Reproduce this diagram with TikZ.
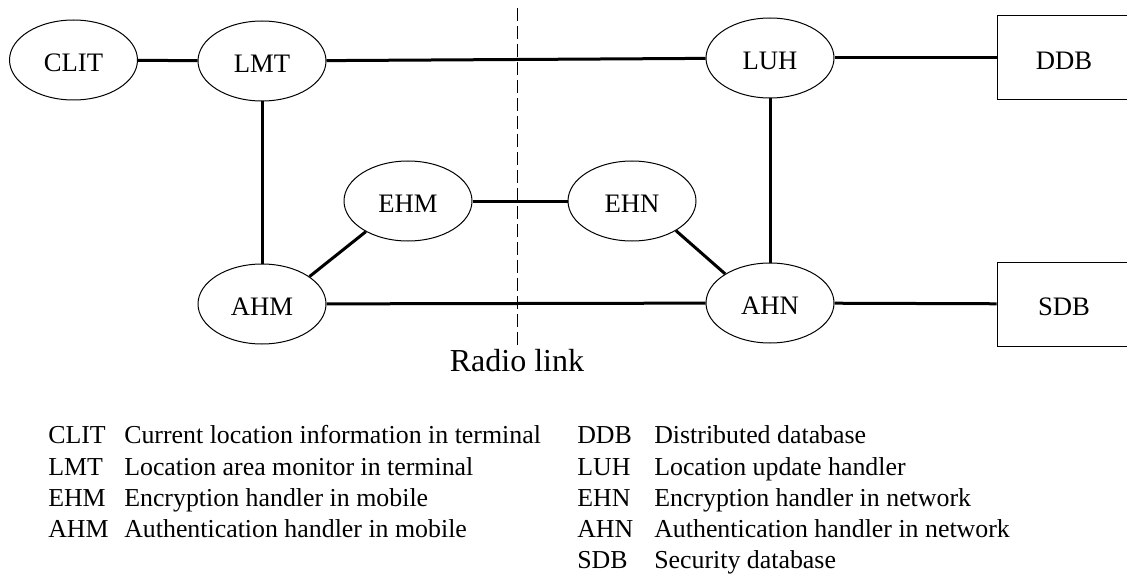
\documentclass[tikz,border=0pt]{standalone}
\usepackage{fontspec}
\setmainfont{Liberation Serif}
\usetikzlibrary{shapes.geometric}
\begin{document}
\begin{tikzpicture}[x=0.75pt,y=-0.75pt,
  lbl/.style={font=\fontsize{20}{24}\selectfont,text height=17.2pt,text depth=0pt},
  ent/.style={ellipse,draw,line width=0.75pt,inner sep=0pt,minimum width=96pt,minimum height=60pt,lbl},
  dbox/.style={rectangle,draw,line width=0.75pt,inner sep=0pt,minimum width=100.5pt,minimum height=63pt,lbl},
  link/.style={line width=2.25pt},
  leg/.style={anchor=base west,inner sep=0pt,font=\fontsize{19.4}{23}\selectfont}]
\useasboundingbox (0,0) rectangle (1127,574);
% nodes
\node[ent] (CLIT) at (73.5,60) {CLIT};
\node[ent] (LMT) at (262,61) {LMT};
\node[ent] (LUH) at (770,58) {LUH};
\node[dbox] (DDB) at (1064,58) {DDB};
\node[ent] (EHM) at (408,201) {EHM};
\node[ent] (EHN) at (632,201) {EHN};
\node[ent] (AHM) at (262,304) {AHM};
\node[ent] (AHN) at (770,303) {AHN};
\node[dbox] (SDB) at (1064,304) {SDB};
% radio link
\coordinate (rtop) at (517,8);
\coordinate (rbot) at (517,347);
\draw[line width=0.75pt,dash pattern=on 9.75pt off 3.75pt] (rtop) -- (rbot);
\node[anchor=base,inner sep=0pt,font=\fontsize{24}{28}\selectfont] (radio) at (517,371) {Radio link};
% links
\draw[link] (CLIT) -- (LMT);
\draw[link] (LMT) -- (LUH);
\draw[link] (LUH) -- (DDB);
\draw[link] (LMT) -- (AHM);
\draw[link] (LUH) -- (AHN);
\draw[link] (EHM) -- (EHN);
\draw[link] (AHM.30) -- (EHM.216);
\draw[link] (EHN.-34) -- (AHN.147);
\draw[link] (AHM) -- (AHN);
\draw[link] (AHN) -- (SDB);
% legend
\node[leg] (a1) at (48,443) {CLIT};
\node[leg] (b1) at (124,443) {Current location information in terminal};
\node[leg] (a2) at (48,475) {LMT};
\node[leg] (b2) at (124,475) {Location area monitor in terminal};
\node[leg] (a3) at (48,506) {EHM};
\node[leg] (b3) at (124,506) {Encryption handler in mobile};
\node[leg] (a4) at (48,537) {AHM};
\node[leg] (b4) at (124,537) {Authentication handler in mobile};
\node[leg] (c1) at (577,443) {DDB};
\node[leg] (d1) at (654,443) {Distributed database};
\node[leg] (c2) at (577,475) {LUH};
\node[leg] (d2) at (654,475) {Location update handler};
\node[leg] (c3) at (577,506) {EHN};
\node[leg] (d3) at (654,506) {Encryption handler in network};
\node[leg] (c4) at (577,537) {AHN};
\node[leg] (d4) at (654,537) {Authentication handler in network};
\node[leg] (c5) at (577,568) {SDB};
\node[leg] (d5) at (654,568) {Security database};
\end{tikzpicture}
\end{document}
